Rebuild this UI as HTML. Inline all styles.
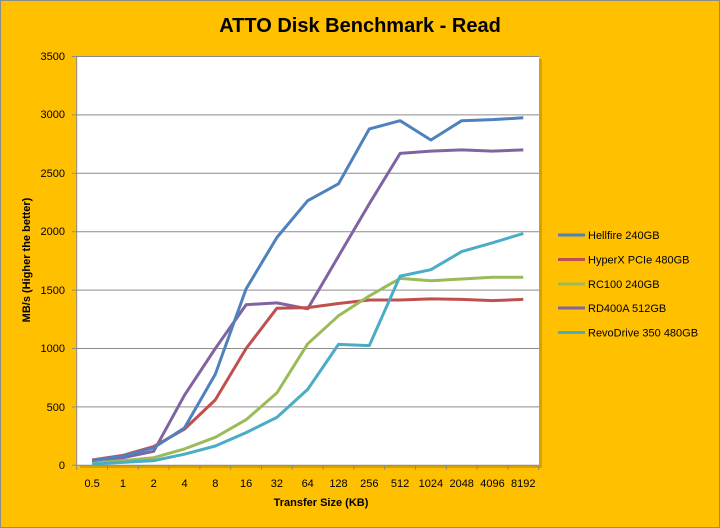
<!DOCTYPE html>
<html><head><style>html,body{margin:0;padding:0;width:720px;height:528px;overflow:hidden;background:#FFC000}svg{display:block}</style></head><body>
<svg width="720" height="528" xmlns="http://www.w3.org/2000/svg" font-family="Liberation Sans, sans-serif">
<rect x="0.5" y="0.5" width="719" height="527" fill="#FFC000" stroke="#8c8c8c"/>
<text x="360" y="32" text-anchor="middle" font-size="20" font-weight="bold">ATTO Disk Benchmark - Read</text>
<rect x="80" y="59" width="462" height="409" fill="#b08400" opacity="0.5"/>
<rect x="77" y="56" width="462" height="409" fill="#fff"/>
<g stroke="#8c8c8c" stroke-width="1">
<line x1="77" y1="56.5" x2="539" y2="56.5"/><line x1="77" y1="114.9" x2="539" y2="114.9"/>
<line x1="77" y1="173.3" x2="539" y2="173.3"/><line x1="77" y1="231.7" x2="539" y2="231.7"/>
<line x1="77" y1="290.1" x2="539" y2="290.1"/><line x1="77" y1="348.5" x2="539" y2="348.5"/>
<line x1="77" y1="406.9" x2="539" y2="406.9"/><line x1="72" y1="465.3" x2="539" y2="465.3"/>
<line x1="76.7" y1="56" x2="76.7" y2="465"/>
<line x1="72" y1="56.5" x2="77" y2="56.5"/><line x1="72" y1="114.9" x2="77" y2="114.9"/><line x1="72" y1="173.3" x2="77" y2="173.3"/><line x1="72" y1="231.7" x2="77" y2="231.7"/><line x1="72" y1="290.1" x2="77" y2="290.1"/><line x1="72" y1="348.5" x2="77" y2="348.5"/><line x1="72" y1="406.9" x2="77" y2="406.9"/>
</g>
<g id="xt" stroke="#8c8c8c"></g>
<g font-size="11" text-anchor="end">
<text x="65" y="60">3500</text><text x="65" y="118">3000</text><text x="65" y="177">2500</text><text x="65" y="235">2000</text><text x="65" y="294">1500</text><text x="65" y="352">1000</text><text x="65" y="411">500</text><text x="65" y="469">0</text>
</g>
<g font-size="11" text-anchor="middle" id="xl"></g>
<text x="321" y="506" text-anchor="middle" font-size="11" font-weight="bold">Transfer Size (KB)</text>
<text transform="translate(30,260) rotate(-90)" text-anchor="middle" font-size="11" font-weight="bold">MB/s (Higher the better)</text>
<g fill="none" stroke-width="3" stroke-linejoin="round" id="series"></g>
<g font-size="11">
<line x1="558" y1="235" x2="585" y2="235" stroke="#4F81BD" stroke-width="3"/><text x="588" y="239">Hellfire 240GB</text>
<line x1="558" y1="259.5" x2="585" y2="259.5" stroke="#C0504D" stroke-width="3"/><text x="588" y="263.5">HyperX PCIe 480GB</text>
<line x1="558" y1="284" x2="585" y2="284" stroke="#9BBB59" stroke-width="3"/><text x="588" y="288">RC100 240GB</text>
<line x1="558" y1="308" x2="585" y2="308" stroke="#8064A2" stroke-width="3"/><text x="588" y="312">RD400A 512GB</text>
<line x1="558" y1="332.5" x2="585" y2="332.5" stroke="#4BACC6" stroke-width="3"/><text x="588" y="336.5">RevoDrive 350 480GB</text>
</g>
</svg>
<script>
var ns="http://www.w3.org/2000/svg";
var labs=["0.5","1","2","4","8","16","32","64","128","256","512","1024","2048","4096","8192"];
var w=462/15;
var xt=document.getElementById("xt"),xl=document.getElementById("xl");
for(var i=0;i<=15;i++){var l=document.createElementNS(ns,"line");var x=76.7+i*w;l.setAttribute("x1",x);l.setAttribute("x2",x);l.setAttribute("y1",465);l.setAttribute("y2",470);xt.appendChild(l);}
labs.forEach(function(s,i){var t=document.createElementNS(ns,"text");t.setAttribute("x",76.7+w/2+i*w);t.setAttribute("y",487);t.textContent=s;xl.appendChild(t);});
var data=[
["#8064A2",[35,65,120,600,1000,1375,1390,1340,1790,2240,2670,2690,2700,2690,2700]],
["#C0504D",[45,85,160,310,560,1000,1345,1350,1385,1415,1415,1425,1420,1410,1420]],
["#9BBB59",[20,40,65,140,240,390,620,1040,1280,1450,1600,1580,1595,1610,1610]],
["#4BACC6",[10,25,40,95,165,280,410,650,1035,1025,1620,1675,1830,1905,1985]],
["#4F81BD",[40,80,150,320,780,1510,1950,2265,2410,2880,2950,2785,2950,2960,2975]]];
var g=document.getElementById("series");
data.forEach(function(d){var p=document.createElementNS(ns,"polyline");p.setAttribute("stroke",d[0]);
p.setAttribute("points",d[1].map(function(v,i){return (76.7+w/2+i*w).toFixed(1)+","+(465.3-v*408.8/3500).toFixed(1)}).join(" "));g.appendChild(p);});
</script>
</body></html>
